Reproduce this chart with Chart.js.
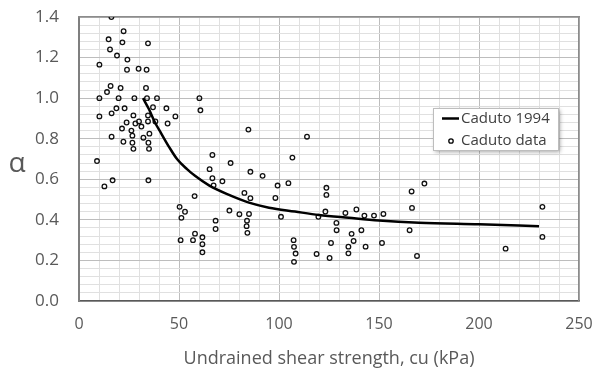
<!DOCTYPE html>
<html>
<head>
<meta charset="utf-8">
<script src="https://cdn.jsdelivr.net/npm/chart.js@4.4.1/dist/chart.umd.min.js"></script>
<style>
  html, body { margin: 0; padding: 0; background: #fff; }
  #wrap { position: relative; width: 593px; height: 374px; }
</style>
</head>
<body>
<div id="wrap"><canvas id="alphaChart" width="593" height="374"></canvas></div>
<script>
// Caduto data (cu in kPa, alpha)
const dataCu = [16.2, 22.3, 14.8, 21.7, 34.5, 15.5, 19.0, 24.2, 10.2, 24.0, 29.8, 33.8, 15.8, 20.8, 33.5, 14.0,
  10.2, 19.8, 27.7, 34.0, 39.0, 18.7, 22.8, 37.0, 43.7, 10.2, 16.3, 27.2, 34.5, 48.2, 23.8, 28.2, 30.0, 34.5,
  38.2, 44.3, 21.5, 31.2, 26.2, 16.3, 26.7, 32.2, 35.2, 22.2, 26.7, 34.7, 27.2, 35.0, 9.0, 16.8, 34.7, 12.7,
  60.2, 60.7, 84.7, 114.0, 57.8, 50.3, 53.0, 51.2, 58.0, 61.7, 50.8, 57.0, 61.7, 61.7, 66.7, 75.8, 65.3, 66.7,
  71.7, 67.3, 85.7, 91.8, 106.7, 82.7, 85.7, 99.3, 104.7, 98.2, 75.2, 80.2, 85.0, 101.0, 68.3, 84.0, 68.3, 83.8,
  84.2, 107.3, 107.5, 108.3, 107.5, 118.8, 123.7, 123.7, 123.2, 119.7, 128.7, 128.8, 126.0, 125.3, 133.2, 136.3,
  137.3, 134.7, 134.7, 138.7, 141.2, 142.7, 143.3, 147.5, 152.2, 151.5, 166.3, 166.5, 165.3, 169.0, 172.7,
  231.7, 231.7, 213.3];
const dataAlpha = [1.40, 1.33, 1.29, 1.275, 1.27, 1.24, 1.21, 1.19, 1.165, 1.14, 1.145, 1.14, 1.06, 1.05, 1.05, 1.03,
  1.00, 1.00, 1.00, 1.00, 1.00, 0.95, 0.95, 0.955, 0.95, 0.91, 0.925, 0.915, 0.915, 0.91, 0.88, 0.875, 0.885, 0.885,
  0.885, 0.875, 0.85, 0.86, 0.84, 0.81, 0.815, 0.805, 0.825, 0.785, 0.78, 0.78, 0.75, 0.75, 0.69, 0.595, 0.595, 0.565,
  1.00, 0.94, 0.845, 0.81, 0.517, 0.464, 0.44, 0.41, 0.332, 0.314, 0.30, 0.30, 0.28, 0.24, 0.72, 0.68, 0.65, 0.605,
  0.59, 0.57, 0.637, 0.617, 0.707, 0.533, 0.507, 0.569, 0.581, 0.508, 0.446, 0.428, 0.429, 0.415, 0.396, 0.396, 0.355, 0.369,
  0.336, 0.30, 0.267, 0.234, 0.193, 0.232, 0.558, 0.523, 0.441, 0.415, 0.385, 0.349, 0.286, 0.212, 0.434, 0.331,
  0.296, 0.268, 0.235, 0.451, 0.349, 0.421, 0.268, 0.421, 0.429, 0.286, 0.540, 0.459, 0.349, 0.222, 0.579,
  0.464, 0.316, 0.258];

// Caduto 1994 curve
const curveCu = [32, 35, 38, 41, 45, 49, 54, 58, 65, 75, 85, 95, 108, 120, 135, 150, 170, 200, 230];
const curveAlpha = [1.00, 0.945, 0.88, 0.828, 0.76, 0.70, 0.65, 0.617, 0.57, 0.523, 0.485, 0.46, 0.441, 0.424, 0.41, 0.397, 0.386, 0.378, 0.369];

const xTicks = [0, 50, 100, 150, 200, 250];
const yTicks = [0.0, 0.2, 0.4, 0.6, 0.8, 1.0, 1.2, 1.4];

const seriesNames = ['Caduto 1994', 'Caduto data'];
const xTitle = 'Undrained shear strength, cu (kPa)';
const yTitle = 'α';

const FONT = "'Open Sans', sans-serif";
const TXT = '#595959';

const isMajor = (v, list) => list.some(t => Math.abs(t - v) < 1e-6);
// every 5th gridline is a major one
const gridColor = c => (c && c.index % 5 === 0) ? '#bdbdbd' : '#e0e0e0';

// plain edge axes that only draw the top / right frame line
const edgeAxis = (axis, position) => ({
  type: 'linear', axis: axis, position: position, display: true,
  grid: { display: false, drawTicks: false },
  ticks: { display: false },
  border: { display: true, color: '#8c8c8c', width: 1.5 },
  afterFit(s) {
    if (axis === 'x') s.height = 0; else s.width = 0;
    s.paddingTop = s.paddingBottom = s.paddingLeft = s.paddingRight = 0;
  }
});

// y title and legend box
const extras = {
  id: 'extras',
  afterDraw(chart) {
    const ctx = chart.ctx;
    ctx.save();
    ctx.fillStyle = TXT;
    ctx.font = "28px " + FONT;
    ctx.textAlign = 'center';
    ctx.textBaseline = 'alphabetic';
    ctx.fillText(yTitle, 17, 172);

    const bx = 433, by = 108, bw = 125, bh = 42;
    ctx.shadowColor = 'rgba(0,0,0,0.35)';
    ctx.shadowBlur = 4;
    ctx.shadowOffsetX = 2;
    ctx.shadowOffsetY = 2;
    ctx.fillStyle = '#fff';
    ctx.fillRect(bx, by, bw, bh);
    ctx.shadowColor = 'transparent';
    ctx.strokeStyle = '#bdbdbd';
    ctx.lineWidth = 1;
    ctx.strokeRect(bx + 0.5, by + 0.5, bw, bh);

    ctx.strokeStyle = '#000';
    ctx.lineWidth = 2.5;
    ctx.beginPath(); ctx.moveTo(442, 118.5); ctx.lineTo(459, 118.5); ctx.stroke();
    ctx.lineWidth = 1.3;
    ctx.beginPath(); ctx.arc(451, 141, 2.2, 0, Math.PI * 2); ctx.stroke();

    ctx.fillStyle = '#404040';
    ctx.font = "15px " + FONT;
    ctx.textAlign = 'left';
    ctx.textBaseline = 'middle';
    ctx.fillText(seriesNames[0], 461, 119);
    ctx.fillText(seriesNames[1], 461, 141);
    ctx.restore();
  }
};

new Chart(document.getElementById('alphaChart'), {
  type: 'scatter',
  data: {
    datasets: [
      {
        label: seriesNames[0],
        type: 'line',
        data: curveCu.map((x, i) => ({ x: x, y: curveAlpha[i] })),
        borderColor: '#000',
        borderWidth: 2.5,
        pointRadius: 0,
        fill: false,
        cubicInterpolationMode: 'monotone',
        order: 1
      },
      {
        label: seriesNames[1],
        data: dataCu.map((x, i) => ({ x: x, y: dataAlpha[i] })),
        pointStyle: 'circle',
        pointRadius: 2.3,
        borderColor: '#111',
        borderWidth: 1.3,
        backgroundColor: 'rgba(255,255,255,0)',
        order: 2
      }
    ]
  },
  options: {
    responsive: false,
    animation: false,
    devicePixelRatio: 1,
    layout: { padding: { top: 17, right: 14, left: 0, bottom: 0 } },
    plugins: { legend: { display: false }, tooltip: { enabled: false } },
    scales: {
      x: {
        type: 'linear',
        position: 'bottom',
        min: 0, max: 250,
        afterFit(s) { s.height = 73; s.paddingLeft = 0; s.paddingRight = 0; },
        border: { display: true, color: '#595959', width: 1.5 },
        grid: { drawTicks: false, color: gridColor, lineWidth: 1 },
        ticks: {
          stepSize: 10,
          autoSkip: false,
          maxRotation: 0,
          padding: 14,
          color: TXT,
          font: { family: FONT, size: 16 },
          callback: v => isMajor(v, xTicks) ? String(v) : ''
        },
        title: {
          display: true,
          text: xTitle,
          color: TXT,
          font: { family: FONT, size: 18 },
          padding: { top: 0, bottom: 4 }
        }
      },
      y: {
        type: 'linear',
        position: 'left',
        min: 0, max: 1.4,
        afterFit(s) { s.width = 79; s.paddingTop = 0; s.paddingBottom = 0; },
        border: { display: true, color: '#7f7f7f', width: 2 },
        grid: { drawTicks: false, color: gridColor, lineWidth: 1 },
        ticks: {
          stepSize: 0.04,
          autoSkip: false,
          padding: 20,
          color: TXT,
          font: { family: FONT, size: 17 },
          callback: v => isMajor(v, yTicks) ? v.toFixed(1) : ''
        }
      },
      xTop: edgeAxis('x', 'top'),
      yRight: edgeAxis('y', 'right')
    }
  },
  plugins: [extras]
});
</script>
</body>
</html>
